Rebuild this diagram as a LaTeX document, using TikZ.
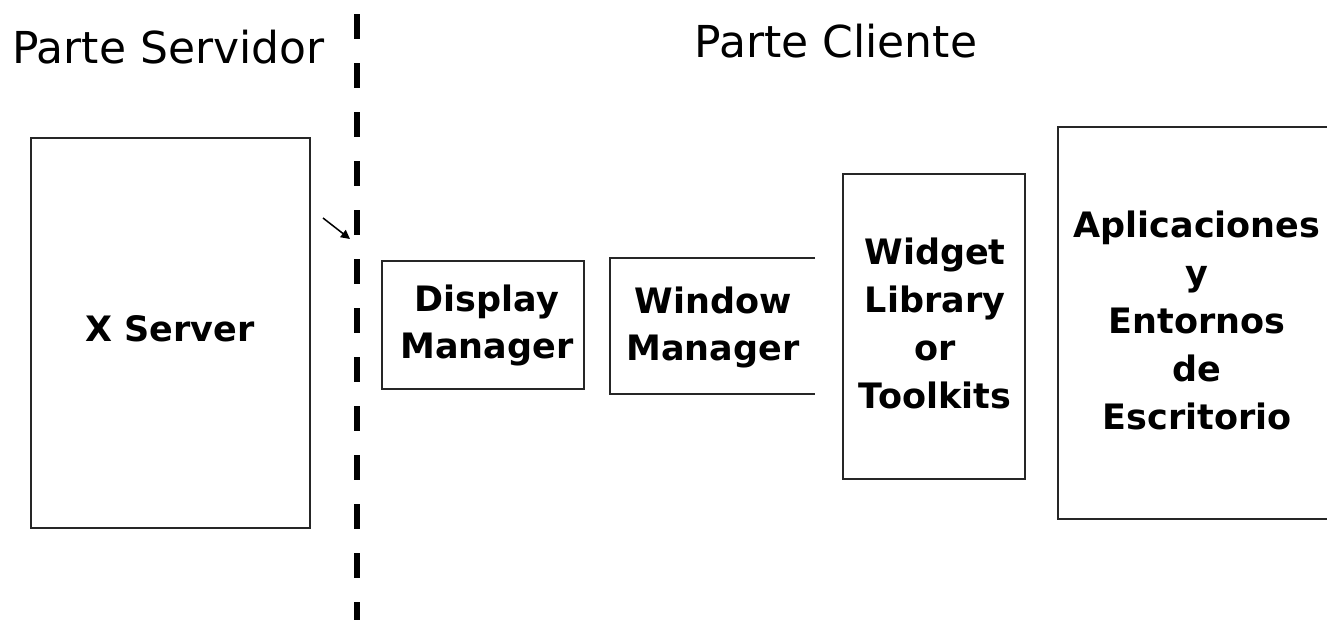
\documentclass[tikz,border=0pt]{standalone}
\usepackage{fontspec}
\setmainfont{DejaVu Sans}
\usetikzlibrary{arrows.meta}
\begin{document}
\begin{tikzpicture}[x=1pt,y=-1pt,
  box/.style={draw=black!85,line width=1.8pt},
  lbl/.style={font=\bfseries\fontsize{35}{47}\selectfont,align=center,inner sep=0pt},
  title/.style={font=\fontsize{44}{50}\selectfont,inner sep=0pt}]
\useasboundingbox (0,0) rectangle (1327,619);
% boxes
\draw[box] (31,138) rectangle (310,528);
\node[lbl] (xs) at (170,329) {X Server};
\draw[box] (382,261) rectangle (584,389);
\node[lbl] (dm) at (487,325) {Display\\Manager};
\draw[box] (815,258) -- (610,258) -- (610,394) -- (815,394);
\node[lbl] (wm) at (713,327) {Window\\Manager};
\draw[box] (843,174) rectangle (1025,479);
\node[lbl,font=\bfseries\fontsize{35}{48}\selectfont] (wl) at (935,323) {Widget\\Library\\or\\Toolkits};
\draw[box] (1340,127) -- (1058,127) -- (1058,519) -- (1340,519);
\node[lbl,font=\bfseries\fontsize{35}{48}\selectfont] (ap) at (1197,320) {Aplicaciones\\y\\Entornos\\de\\Escritorio};
% titles
\node[title,anchor=west] (ps) at (12,47) {Parte Servidor};
\node[title] (pc) at (836,41) {Parte Cliente};
% dashed separator
\coordinate (d1) at (357,14);
\coordinate (d2) at (357,625);
\draw[line width=6pt,dash pattern=on 25pt off 24pt] (d1) -- (d2);
% small arrow
\coordinate (a1) at (323,218);
\coordinate (a2) at (350,239);
\draw[line width=1.5pt,-{Triangle[length=9pt,width=9pt]}] (a1) -- (a2);
\end{tikzpicture}
\end{document}
